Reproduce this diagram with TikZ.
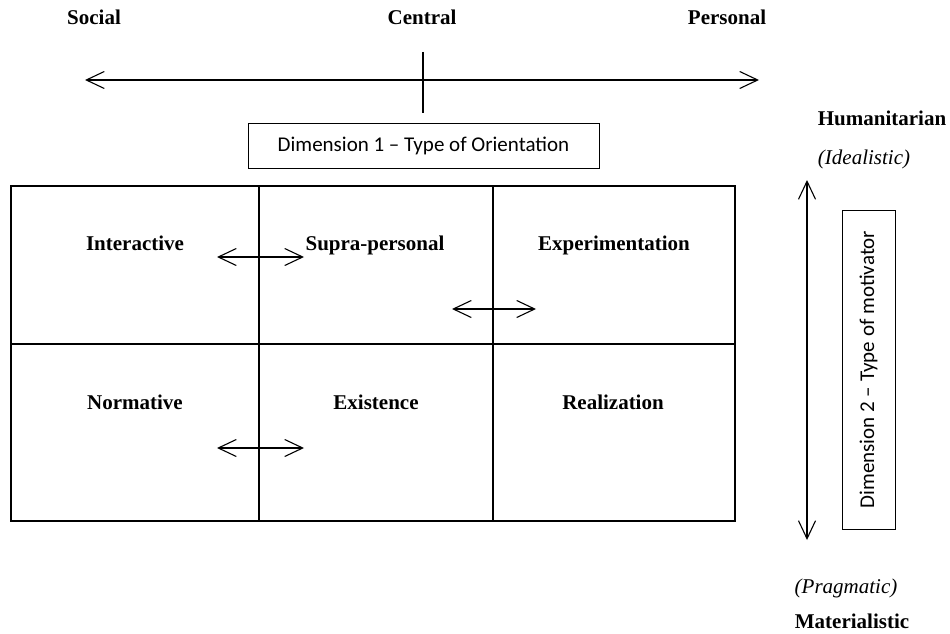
\documentclass[tikz,border=0pt]{standalone}
\usepackage{fontspec}
\setmainfont{Liberation Serif}
\newfontfamily\calfont{Carlito}
\usetikzlibrary{arrows.meta}
\begin{document}
\begin{tikzpicture}[x=1pt,y=-1pt,
  lbl/.style={font=\fontsize{21}{24}\selectfont\bfseries, inner sep=0pt, text height=13.9pt, text depth=0pt},
  itl/.style={font=\fontsize{21}{24}\selectfont\itshape, inner sep=0pt, text height=13.9pt, text depth=0pt},
  dimbox/.style={draw, line width=1pt, font=\calfont\fontsize{21}{24}\selectfont, inner sep=0pt},
  dbl/.style={line width=1.1pt, {Straight Barb[length=18pt,width=17pt]}-{Straight Barb[length=18pt,width=17pt]}},
  gridline/.style={line width=1.1pt}]
\useasboundingbox (0,0) rectangle (950,634);

% top labels and axis
\node[lbl] (social) at (94,18) {Social};
\node[lbl] (central) at (422,18) {Central};
\node[lbl] (personal) at (727,18) {Personal};
\coordinate (hl) at (85,80);
\coordinate (hr) at (759,80);
\draw[dbl] (hl) -- (hr);
\coordinate (tt) at (423,52);
\coordinate (tb) at (423,113);
\draw[line width=1.1pt] (tt) -- (tb);
\node[dimbox, minimum width=351pt, minimum height=45pt] (dim1) at (423.5,145.5) {Dimension 1 – Type of Orientation};

% grid
\coordinate (g1) at (11,186);
\coordinate (g2) at (735,521);
\draw[gridline] (g1) rectangle (g2);
\draw[gridline] (259,186) -- (259,521);
\draw[gridline] (493,186) -- (493,521);
\draw[gridline] (11,344) -- (735,344);

% cell labels
\node[lbl] (interactive) at (135,244) {Interactive};
\node[lbl] (supra) at (375,244) {Supra-personal};
\node[lbl] (experim) at (614,244) {Experimentation};
\node[lbl] (normative) at (135,403) {Normative};
\node[lbl] (existence) at (376,403) {Existence};
\node[lbl] (realization) at (613,403) {Realization};

% small double arrows
\coordinate (a1l) at (217,257); \coordinate (a1r) at (304,257);
\coordinate (a2l) at (452,309); \coordinate (a2r) at (536,309);
\coordinate (a3l) at (217,448); \coordinate (a3r) at (304,448);
\draw[dbl] (a1l) -- (a1r);
\draw[dbl] (a2l) -- (a2r);
\draw[dbl] (a3l) -- (a3r);

% right side
\node[lbl] (human) at (882,119) {Humanitarian};
\node[itl] (ideal) at (864,158) {(Idealistic)};
\coordinate (vt) at (807,180);
\coordinate (vb) at (807,540);
\draw[dbl] (vt) -- (vb);
\node[dimbox, rotate=90, minimum width=319pt, minimum height=53pt] (dim2) at (868.5,369.5) {Dimension 2 – Type of motivator};
\node[itl] (prag) at (846,587) {(Pragmatic)};
\node[lbl] (mater) at (852,622) {Materialistic};
\end{tikzpicture}
\end{document}
